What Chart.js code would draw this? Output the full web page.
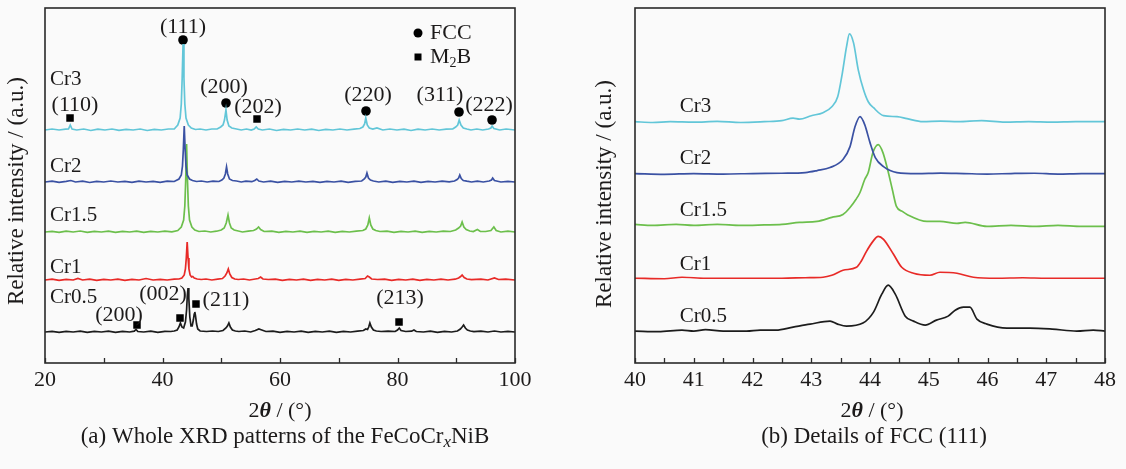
<!DOCTYPE html>
<html><head><meta charset="utf-8">
<script src="https://cdn.jsdelivr.net/npm/chart.js@4"></script>
<style>
html,body{margin:0;padding:0;background:#fafafa;}
#wrap{position:relative;width:1126px;height:469px;}
.panel{position:absolute;top:0;height:469px;}
#pa{left:0;width:560px}
#pb{left:560px;width:566px}
</style></head><body>
<div id="wrap">
  <div class="panel" id="pa"><canvas id="ca"></canvas></div>
  <div class="panel" id="pb"><canvas id="cb"></canvas></div>
</div>
<script>
// ---- data: (a) whole patterns, intensity above each curve's own baseline ----
const seriesNames = ['Cr3','Cr2','Cr1.5','Cr1','Cr0.5'];
const seriesColors = ['#62c6d8','#3a51a3','#6cbf4c','#e82a27','#1c1c1c'];
const offsetsA = [233,181,131,83,31];
const offsetsB = [242,190,139,85,32];

const cr3A = [[20,0],[21.2,1],[22.4,0],[23.5,0.8],[24,1],[24.3,5],[24.6,1],[25.4,0],[26.6,1],[27.8,-0.5],[29,0.8],[30.2,0],[31.4,1],[32.6,-0.3],[33.8,0.6],[35,0],[36.2,1],[37.4,-0.5],[38.6,0.7],[39.8,0],[41,1],[42,1],[42.6,5],[43,12],[43.2,26],[43.35,52],[43.5,86],[43.65,52],[43.8,26],[44,12],[44.4,5],[44.9,2],[45.6,0.5],[46.4,1],[47.4,0],[48.4,1],[49.3,1],[49.9,3],[50.3,5],[50.55,10],[50.8,20],[51,10],[51.3,4],[51.8,2],[52.6,1],[53.4,0],[54.3,1],[55.1,0],[55.6,1],[55.95,3],[56.3,1],[57,0],[58.2,1],[59.4,-0.5],[60.6,0.7],[61.8,0],[63,1],[64.2,0],[65.4,0.8],[66.6,-0.5],[67.8,0.6],[69,0],[70.2,1],[71.4,0],[72.6,0.8],[73.6,1.5],[74.1,3],[74.4,6],[74.6,12],[74.85,5],[75.2,2],[75.8,1],[76.5,2],[77.5,0],[78.7,1],[79.9,0],[81.1,0.8],[82.3,-0.5],[83.5,0.8],[84.7,0],[85.9,1],[87.1,0],[88.3,0.8],[89.4,1],[89.9,3],[90.25,5],[90.5,10],[90.8,5],[91.2,2],[91.8,1],[92.5,0],[93.5,1],[94.5,0],[95.5,1],[95.9,2],[96.1,4],[96.4,1.5],[97.4,0],[98.5,1],[100,0]];
const cr2A = [[20,0],[21.2,0.8],[22.4,-0.3],[23.6,0.7],[24.4,1.5],[25.2,0],[26.4,0.8],[27.6,-0.5],[28.8,0.6],[30,0],[31.2,1],[32.4,0],[33.6,0.7],[34.8,-0.4],[36,0.8],[37.2,0],[38.4,0.6],[39.6,-0.3],[40.8,0.8],[42,0.5],[42.8,3],[43.2,7],[43.4,16],[43.55,33],[43.7,56],[43.85,33],[44,16],[44.2,7],[44.6,3],[45.1,1.5],[45.8,0.5],[46.6,1],[47.6,0],[48.6,0.8],[49.6,0.5],[50.1,2],[50.45,4],[50.7,8],[50.9,15],[51.1,8],[51.4,3],[51.9,1.5],[52.6,1],[53.4,0],[54.2,0.8],[55.2,0.3],[55.7,1.5],[56.05,3],[56.4,1],[57.2,0],[58.4,0.8],[59.6,-0.4],[60.8,0.6],[62,0],[63.2,0.8],[64.4,0],[65.6,0.6],[66.8,-0.4],[68,0.7],[69.2,0],[70.4,0.8],[71.6,-0.3],[72.8,0.6],[73.9,1],[74.35,3],[74.6,5],[74.8,9],[75.05,4],[75.4,2],[75.9,1],[76.8,0],[78,0.8],[79.2,-0.3],[80.4,0.6],[81.6,0],[82.8,0.8],[84,-0.3],[85.2,0.7],[86.4,0],[87.6,0.8],[88.8,0.2],[89.7,1],[90.15,2.5],[90.4,4],[90.6,7],[90.85,3.5],[91.2,1.5],[91.8,0.8],[92.6,0],[93.6,0.8],[94.6,0],[95.6,1],[96,2],[96.2,4],[96.5,1.5],[97.6,0],[98.8,0.7],[100,0]];
const cr15A = [[20,0],[21.2,0.6],[22.4,-0.4],[23.6,0.8],[24.8,0],[26,1],[27.2,-0.3],[28.4,0.7],[29.6,0],[30.8,0.8],[32,-0.4],[33.2,0.6],[34.4,0],[35.6,0.8],[36.8,-0.3],[38,0.7],[39.2,0],[40.4,0.8],[41.6,0.2],[42.6,1.5],[43.2,5],[43.6,12],[43.8,26],[43.95,52],[44.1,88],[44.25,52],[44.4,26],[44.6,12],[45,5],[45.5,2],[46.2,0.5],[47.2,1],[48.2,0],[49.2,0.8],[50,2],[50.5,4],[50.85,9],[51.15,17],[51.4,9],[51.7,4],[52.2,2],[52.9,1],[53.6,0],[54.6,0.8],[55.5,1.5],[56,3],[56.35,5],[56.7,2.5],[57.3,0.5],[58.6,0.8],[59.8,-0.3],[61,0.6],[62.2,0],[63.4,0.8],[64.6,-0.3],[65.8,0.7],[67,0],[68.2,0.8],[69.4,-0.3],[70.6,0.6],[71.8,0],[73,0.8],[74.1,1.5],[74.6,3],[74.95,7],[75.2,14],[75.45,7],[75.8,3],[76.3,1.5],[77,0.5],[78.2,0.8],[79.4,-0.3],[80.6,0.7],[81.8,0],[83,0.8],[84.2,-0.3],[85.4,0.7],[86.6,0],[87.8,0.8],[89,0.5],[89.9,2],[90.4,4],[90.75,6],[91,10],[91.3,5],[91.7,2.5],[92.3,1],[92.9,0.5],[93.6,2.5],[94.1,0.5],[95,0.5],[95.9,1.5],[96.4,5],[96.8,1.5],[97.6,0],[98.8,0.8],[100,0]];
const cr1A = [[20,0],[21.2,0.8],[22.4,-0.3],[23.6,0.6],[24.8,0],[25.6,1.5],[26.4,0],[27.6,0.8],[28.8,-0.3],[30,0.6],[31.2,0],[32.4,0.8],[33.6,-0.3],[34.8,0.7],[36,0],[37.2,1.5],[38.4,0],[39.6,0.7],[40.8,0],[42,0.8],[42.8,1],[43.3,2],[43.7,5],[43.9,11],[44.05,22],[44.2,38],[44.35,22],[44.5,11],[44.7,5],[44.95,3],[45.15,3.5],[45.4,2],[45.9,1],[46.6,0.5],[47.4,1],[48.4,0],[49.4,0.8],[50.2,1.5],[50.65,4],[50.95,7],[51.2,11],[51.45,6],[51.8,2.5],[52.3,1],[52.9,0.5],[53.8,1],[54.8,0],[55.8,1],[56.3,1.5],[56.7,3],[57.1,1],[58,0.5],[59.2,0.8],[60.4,-0.3],[61.6,0.6],[62.8,0],[64,0.8],[65.2,-0.3],[66.4,0.7],[67.6,0],[68.8,0.8],[70,-0.3],[71.2,0.6],[72.4,0],[73.6,0.8],[74.5,1.5],[74.9,4],[75.2,3],[75.6,1],[76.6,0.5],[77.8,0.8],[79,-0.3],[80.2,0.6],[81.4,0],[82.6,0.8],[83.8,-0.3],[85,0.7],[86.2,0],[87.4,0.8],[88.6,0],[89.8,0.8],[90.4,2],[90.75,3.5],[91,5],[91.35,2.5],[91.8,1],[92.6,0.3],[94.2,0.8],[95.4,0],[96.5,2],[97.2,0.5],[98.4,0.8],[100,0]];
const cr05A = [[20,0],[21.2,0.6],[22.4,-0.3],[23.6,0.6],[24.8,0],[26,0.8],[27.2,-0.3],[28.4,0.6],[29.6,0],[30.8,0.8],[32,-0.3],[33.2,0.6],[34.4,0],[35.2,0.8],[35.5,2.5],[35.8,0.5],[36.8,0],[38,0.8],[39.2,-0.3],[40.4,0.7],[41.4,0.5],[42,1],[42.5,2],[42.8,5],[43.05,9],[43.3,5],[43.6,4],[43.9,10],[44.1,22],[44.22,36],[44.35,44],[44.48,34],[44.65,15],[44.85,6],[45.05,6],[45.25,12],[45.4,18],[45.5,20],[45.62,16],[45.8,8],[46,3],[46.4,1],[47.5,0.5],[48.5,1],[49.5,0.5],[50.3,1.5],[50.8,4],[51.05,6],[51.3,9],[51.55,5],[51.9,2],[52.4,1],[53,0.5],[54,1],[55,0],[55.8,1.5],[56.4,3],[56.9,2],[57.6,0.5],[58.8,0.8],[60,-0.3],[61.2,0.6],[62.4,0],[63.6,0.8],[64.8,-0.3],[66,0.7],[67.2,0],[68.4,0.8],[69.6,-0.3],[70.8,0.6],[72,0],[73.2,0.8],[74.2,1.5],[74.6,3],[74.9,2.5],[75.1,5],[75.3,9],[75.55,5],[75.9,2],[76.4,1],[77.2,0.5],[78.4,0.8],[79.6,0.5],[80,2],[80.3,4],[80.6,1.5],[81.4,0.5],[82.4,0.8],[82.8,2],[83.2,0.5],[84.4,0],[85.6,0.8],[86.8,-0.3],[88,0.6],[89.2,0],[90.2,1],[90.7,3],[91,5],[91.25,7],[91.55,4],[91.9,2],[92.4,1],[93,0.3],[94.2,0.8],[95.4,0],[96.5,1],[97.6,0],[98.8,0.6],[100,0]];

// ---- data: (b) FCC (111) detail ----
const cr3B = [[40,0],[40.3,-0.8],[40.6,0],[41,-0.5],[41.4,0.3],[41.8,-0.8],[42.2,0],[42.5,1],[42.69,3.5],[42.8,2.5],[43,6],[43.2,9],[43.35,15],[43.45,25],[43.53,49],[43.6,75],[43.65,88],[43.72,79],[43.8,52],[43.89,32],[43.97,20],[44.06,14],[44.23,6],[44.46,5],[44.63,3],[44.9,0],[45.2,0.5],[45.5,0],[45.9,1],[46.3,-0.5],[46.7,0],[47.1,-0.5],[47.5,0],[48,0]];
const cr2B = [[40,0],[40.5,-0.8],[41,0],[41.5,-0.5],[42,0],[42.5,0.3],[42.9,1],[43.1,3],[43.32,6],[43.54,14],[43.66,27],[43.74,46],[43.83,57],[43.91,49],[44,31],[44.09,16],[44.23,7],[44.46,1],[44.8,0],[45.2,0.5],[45.6,0],[46,-0.5],[46.4,0],[46.8,0.3],[47.2,-0.5],[47.6,0],[48,0]];
const cr15B = [[40,0],[40.3,-1],[40.7,0],[41,-1],[41.4,0],[41.8,-1],[42.2,-0.5],[42.5,0],[42.8,2],[43.1,3],[43.35,7],[43.54,10],[43.66,17],[43.76,25],[43.83,32],[43.91,45],[43.97,52],[44.05,72],[44.14,80],[44.22,72],[44.3,55],[44.38,35],[44.45,18],[44.55,13],[44.63,10],[44.97,3],[45.19,3],[45.48,1],[45.62,2],[45.99,-2],[46.4,-1],[46.8,-2],[47.2,-1],[47.6,-2],[48,-2]];
const cr1B = [[40,0],[40.5,-0.5],[40.8,1],[41.2,0],[41.6,0],[42,0],[42.5,0],[42.9,0.5],[43.2,1],[43.35,3],[43.54,8],[43.77,11],[43.85,17],[43.94,27],[44.05,37],[44.14,42],[44.23,39],[44.4,24],[44.54,11],[44.74,5],[45.02,3],[45.19,6],[45.48,5],[45.76,1],[46.16,0],[46.6,0.5],[47,0],[47.4,0],[47.8,0],[48,0]];
const cr05B = [[40,0],[40.4,-0.5],[40.8,1],[41,0],[41.2,1.5],[41.5,0],[41.9,0],[42.13,1],[42.4,1],[42.69,4],[42.98,7],[43.32,10],[43.45,7],[43.6,5],[43.88,8],[44.06,19],[44.2,37],[44.31,46],[44.43,37],[44.6,15],[44.74,10],[44.94,6],[45.13,11],[45.33,15],[45.45,21],[45.59,24],[45.7,24],[45.82,12],[45.99,7],[46.33,3],[46.72,3],[47.1,2],[47.52,0],[47.8,1],[48,0]];

// peak markers (2theta, stacked intensity)
const fccX = [43.49,50.81,74.64,90.47,96.09];
const fccY = [323,260,252,251,243];
const m2bX = [24.26,56.09,35.66,42.98,45.70,80.26];
const m2bY = [245,244,38,45,59,41];
const hklText = ['(111)','(200)','(220)','(311)','(222)','(110)','(202)','(200)','(002)','(211)','(213)'];
const hklX = [43.49,50.47,74.98,87.23,95.57,25.11,56.26,32.6,40.09,50.81,80.43];
const hklY = [336,276,268,268,258,258,256,48,69,63,65];
const nameYA = [284,197,148,96,66];
const nameYB = [257,205,153,99,47];

const ticksA = [20,40,60,80,100], minorA = [30,50,70,90];
const ticksB = [40,41,42,43,44,45,46,47,48], minorB = [40.5,41.5,42.5,43.5,44.5,45.5,46.5,47.5];

const serif = '"Liberation Serif","Times New Roman",serif';
const ink = '#1c1a1a';
const fontOf = p => `${p.italic?'italic ':''}${p.bold?'bold ':''}${p.size||21}px ${serif}`;

function drawRuns(ctx, parts, x, y, align){
  let w = 0;
  parts.forEach(p=>{ ctx.font = fontOf(p); p.w = ctx.measureText(p.t).width; w += p.w; });
  let cx = align==='center' ? x - w/2 : x;
  ctx.textAlign = 'left'; ctx.textBaseline = 'middle'; ctx.fillStyle = ink;
  parts.forEach(p=>{ ctx.font = fontOf(p); ctx.fillText(p.t, cx, y + (p.dy||0)); cx += p.w; });
}

function frame(chart, majors, minors){
  const {ctx, chartArea:a, scales:{x}} = chart;
  ctx.save();
  ctx.strokeStyle = '#2a2a2a'; ctx.lineWidth = 1.6;
  ctx.strokeRect(a.left, a.top, a.right-a.left, a.bottom-a.top);
  ctx.lineWidth = 1.3;
  majors.concat(minors).forEach(v=>{
    const px = Math.round(x.getPixelForValue(v)) + 0.5;
    ctx.beginPath(); ctx.moveTo(px, a.bottom); ctx.lineTo(px, a.bottom-5); ctx.stroke();
  });
  ctx.restore();
}

function yTitle(ctx, x, y){
  ctx.save(); ctx.translate(x, y); ctx.rotate(-Math.PI/2);
  ctx.font = `23px ${serif}`; ctx.fillStyle = ink; ctx.textAlign = 'center'; ctx.textBaseline = 'middle';
  ctx.fillText('Relative intensity / (a.u.)', 0, 0);
  ctx.restore();
}

const lineSets = (arrs, offs, smooth) => arrs.map((arr,i)=>({
  type:'line', label: seriesNames[i],
  data: arr.map(([x,y])=>({x, y: y + offs[i]})),
  borderColor: seriesColors[i], borderWidth: 1.7, pointRadius: 0,
  tension: smooth ? 0.4 : 0, cubicInterpolationMode: smooth ? 'monotone' : 'default'
}));

function baseOptions(xmin, xmax, ticks, ymax, yWidth, padRight){
  return {
    responsive:true, maintainAspectRatio:false, animation:false,
    layout:{padding:{left:0, right:padRight, top:8, bottom:0}},
    plugins:{legend:{display:false}, tooltip:{enabled:false}},
    scales:{
      x:{type:'linear', min:xmin, max:xmax,
         afterBuildTicks: s=>{ s.ticks = ticks.map(v=>({value:v})); },
         ticks:{font:{family:serif, size:22}, color:ink, padding:4, maxRotation:0, autoSkip:false},
         grid:{display:false, drawTicks:false}, border:{display:false},
         afterFit: s=>{ s.height = 106; }},
      y:{min:0, max:ymax, ticks:{display:false}, grid:{display:false, drawTicks:false}, border:{display:false},
         afterFit: s=>{ s.width = yWidth; }}
    }
  };
}

// ---- panel (a) ----
const decorA = {
  id:'decorA',
  afterDraw(chart){
    const {ctx, scales:{x,y}, chartArea:a} = chart;
    frame(chart, ticksA, minorA);
    hklText.forEach((t,i)=> drawRuns(ctx, [{t, size:22}], x.getPixelForValue(hklX[i]), y.getPixelForValue(hklY[i]), 'center'));
    seriesNames.forEach((t,i)=> drawRuns(ctx, [{t}], a.left+5, y.getPixelForValue(nameYA[i]), 'left'));
    // legend
    ctx.save(); ctx.fillStyle = '#000';
    ctx.beginPath(); ctx.arc(a.left+373, a.top+25, 4.5, 0, Math.PI*2); ctx.fill();
    ctx.fillRect(a.left+369.5, a.top+45.5, 7, 7);
    ctx.restore();
    drawRuns(ctx, [{t:'FCC', size:22}], a.left+385, a.top+25, 'left');
    drawRuns(ctx, [{t:'M', size:22},{t:'2',size:14,dy:6},{t:'B', size:22}], a.left+385, a.top+49, 'left');
    yTitle(ctx, 17, 191);
    drawRuns(ctx, [{t:'2', size:22},{t:'θ',italic:true,bold:true,size:22},{t:' / (°)', size:22}], (a.left+a.right)/2, 411, 'center');
    drawRuns(ctx, [{t:'(a) Whole XRD patterns of the FeCoCr', size:23},{t:'x',italic:true,size:17,dy:6},{t:'NiB', size:23}], 285, 437, 'center');
  }
};

new Chart(document.getElementById('ca'), {
  data:{datasets:[
    ...lineSets([cr3A,cr2A,cr15A,cr1A,cr05A], offsetsA, false),
    {type:'scatter', data: fccX.map((v,i)=>({x:v, y:fccY[i]})), pointStyle:'circle', pointRadius:4.8, backgroundColor:'#000', borderWidth:0},
    {type:'scatter', data: m2bX.map((v,i)=>({x:v, y:m2bY[i]})), pointStyle:'rect', pointRadius:5.3, backgroundColor:'#000', borderWidth:0}
  ]},
  options: baseOptions(20, 100, ticksA, 355, 45, 45),
  plugins:[decorA]
});

// ---- panel (b) ----
const decorB = {
  id:'decorB',
  afterDraw(chart){
    const {ctx, scales:{x,y}} = chart;
    frame(chart, ticksB, minorB);
    seriesNames.forEach((t,i)=> drawRuns(ctx, [{t}], x.getPixelForValue(40.76), y.getPixelForValue(nameYB[i]), 'left'));
    yTitle(ctx, 45, 194);
    drawRuns(ctx, [{t:'2', size:22},{t:'θ',italic:true,bold:true,size:22},{t:' / (°)', size:22}], 312, 411, 'center');
    drawRuns(ctx, [{t:'(b) Details of FCC (111)', size:23}], 314, 437, 'center');
  }
};

new Chart(document.getElementById('cb'), {
  data:{datasets: lineSets([cr3B,cr2B,cr15B,cr1B,cr05B], offsetsB, true)},
  options: baseOptions(40, 48, ticksB, 356, 75, 21),
  plugins:[decorB]
});
</script>
</body></html>
